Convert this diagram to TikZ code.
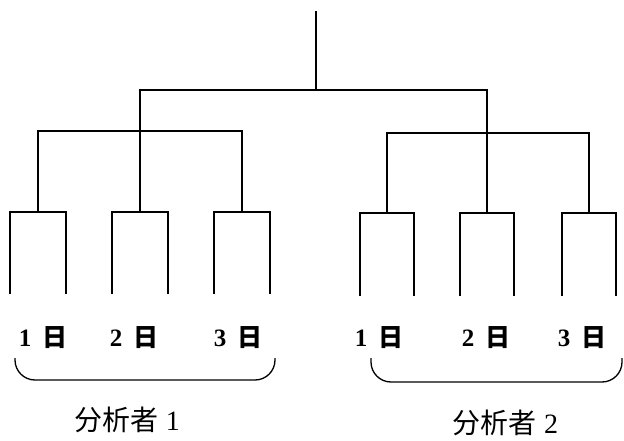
\documentclass[tikz,border=0pt]{standalone}
\usepackage{fontspec}
\setmainfont{Liberation Serif}
\newfontfamily\cjk{Noto Sans CJK SC}

\begin{document}
\begin{tikzpicture}[x=1pt,y=-1pt,line width=1.3pt,
		daylab/.style={font=\fontsize{25}{25}\selectfont\bfseries,inner sep=0pt},
		anlab/.style={font=\fontsize{28}{28}\selectfont,inner sep=0pt}]
		\useasboundingbox (0,0) rectangle (624,441);
		% tree
		\coordinate (top) at (316,11);
		\coordinate (root) at (316,90);
		\coordinate (a1) at (140,131);
		\coordinate (a2) at (487,133);
		\draw (top) -- (root);
		\draw (a1) |- (root) -| (a2);
		\foreach \i/\x/\y in {1/38/212,2/140/212,3/242/212} {
			\coordinate (d1\i) at (\x,\y);
			\coordinate (l1\i) at (\x-28,294);
			\coordinate (r1\i) at (\x+28,294);
			\draw (l1\i) |- (d1\i) -| (r1\i);
		}
		\foreach \i/\x/\y in {1/387/213,2/487/213,3/589/213} {
			\coordinate (d2\i) at (\x,\y);
			\coordinate (l2\i) at (\x-27,296);
			\coordinate (r2\i) at (\x+27,296);
			\draw (l2\i) |- (d2\i) -| (r2\i);
		}
		\draw (d11) |- (a1) -| (d13);
		\draw (a1) -- (d12);
		\draw (d21) |- (a2) -| (d23);
		\draw (a2) -- (d22);
		% days
		\foreach \n/\x/\d in {t11/43/1,t12/134/2,t13/238/3,t21/379/1,t22/486/2,t23/582/3}
			\node[daylab] (\n) at (\x,338) {\d\hspace{11pt}{\cjk 日}};
		% braces
		\coordinate (b1l) at (15,358);
		\coordinate (b1r) at (275,358);
		\coordinate (b2l) at (371,358);
		\coordinate (b2r) at (622,358);
		\draw[rounded corners=20pt] (b1l) -- ++(0,22) -| (b1r);
		\draw[rounded corners=20pt] (b2l) -- ++(0,24) -| (b2r);
		\node[anlab] (an1) at (127,420) {{\cjk 分析者}\hspace{8pt}1};
		\node[anlab] (an2) at (505,423) {{\cjk 分析者}\hspace{8pt}2};
\end{tikzpicture}
\end{document}
